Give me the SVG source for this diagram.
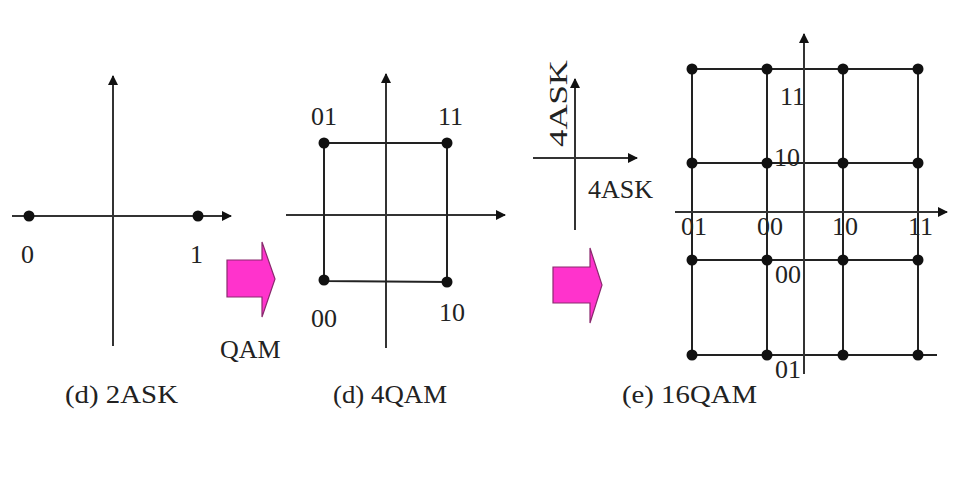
<svg xmlns="http://www.w3.org/2000/svg" width="961" height="483" viewBox="0 0 961 483">
<style>
text{font-size:26px;fill:#222}
.ax{stroke:#333;stroke-width:2;fill:none}
.gr{stroke:#222;stroke-width:2;fill:none}
.dot{fill:#111}
.big{stroke:#8a2a6e;stroke-width:1.2;fill:#ff33cc}
</style>
<defs>
<marker id="ah" markerWidth="10" markerHeight="10" refX="9" refY="5" orient="auto" markerUnits="userSpaceOnUse">
<path d="M0,0 L10,5 L0,10 z" fill="#111"/>
</marker>
</defs>
<rect width="961" height="483" fill="#fff"/>

<g id="panel-2ask">
<line class="ax" x1="12" y1="216" x2="231" y2="216" marker-end="url(#ah)"/>
<line class="ax" x1="113" y1="346" x2="113" y2="76" marker-end="url(#ah)"/>
<circle class="dot" cx="29" cy="216" r="5.5"/>
<circle class="dot" cx="198" cy="216" r="5.5"/>
<text font-family="Liberation Serif" x="21" y="263">0</text>
<text font-family="Liberation Serif" x="190" y="263">1</text>
<text font-family="Liberation Serif" x="65" y="403" textLength="113" lengthAdjust="spacingAndGlyphs">(d) 2ASK</text>
</g>

<g id="arrow-qam">
<path class="big" d="M227,260 L262,260 L262,242 L275,279 L262,317 L262,297 L227,297 z"/>
<text font-family="Liberation Serif" x="220" y="358">QAM</text>
</g>

<g id="panel-4qam">
<line class="ax" x1="286" y1="215" x2="505" y2="215" marker-end="url(#ah)"/>
<line class="ax" x1="386" y1="348" x2="386" y2="74" marker-end="url(#ah)"/>
<path class="gr" d="M324,143 L447,143 L447,282 L324,281 z"/>
<circle class="dot" cx="324" cy="143" r="5.5"/>
<circle class="dot" cx="447" cy="143" r="5.5"/>
<circle class="dot" cx="324" cy="280" r="5.5"/>
<circle class="dot" cx="447" cy="282" r="5.5"/>
<text font-family="Liberation Serif" x="311" y="125">01</text>
<text font-family="Liberation Serif" x="438" y="125">11</text>
<text font-family="Liberation Serif" x="311" y="327">00</text>
<text font-family="Liberation Serif" x="439" y="321">10</text>
<text font-family="Liberation Serif" x="333" y="403" textLength="114" lengthAdjust="spacingAndGlyphs">(d) 4QAM</text>
</g>

<g id="panel-4ask-axes">
<line class="ax" x1="533" y1="158" x2="637" y2="158" marker-end="url(#ah)"/>
<line class="ax" x1="575" y1="230" x2="575" y2="79" marker-end="url(#ah)"/>
<text font-family="Liberation Serif" transform="translate(567,147) rotate(-90)" x="0" y="0" textLength="87" lengthAdjust="spacingAndGlyphs">4ASK</text>
<text font-family="Liberation Serif" x="588" y="198">4ASK</text>
</g>

<g id="arrow-16qam">
<path class="big" d="M553,267 L590,267 L590,248 L602,285 L590,323 L590,303 L553,303 z"/>
</g>

<g id="panel-16qam">
<g class="gr">
<line x1="692" y1="69" x2="918" y2="69"/>
<line x1="692" y1="163" x2="918" y2="163"/>
<line x1="692" y1="260" x2="918" y2="260"/>
<line x1="692" y1="355" x2="937" y2="355"/>
<line x1="692" y1="69" x2="692" y2="355"/>
<line x1="767" y1="69" x2="767" y2="355"/>
<line x1="843" y1="69" x2="843" y2="355"/>
<line x1="918" y1="69" x2="918" y2="355"/>
</g>
<line class="ax" x1="675" y1="212" x2="947" y2="212" marker-end="url(#ah)"/>
<line class="ax" x1="804" y1="374" x2="804" y2="34" marker-end="url(#ah)"/>
<g class="dot">
<circle cx="692" cy="69" r="5.5"/><circle cx="767" cy="69" r="5.5"/><circle cx="843" cy="69" r="5.5"/><circle cx="918" cy="69" r="5.5"/>
<circle cx="692" cy="163" r="5.5"/><circle cx="767" cy="163" r="5.5"/><circle cx="843" cy="163" r="5.5"/><circle cx="918" cy="163" r="5.5"/>
<circle cx="692" cy="260" r="5.5"/><circle cx="767" cy="260" r="5.5"/><circle cx="843" cy="260" r="5.5"/><circle cx="918" cy="260" r="5.5"/>
<circle cx="692" cy="355" r="5.5"/><circle cx="767" cy="355" r="5.5"/><circle cx="843" cy="355" r="5.5"/><circle cx="918" cy="355" r="5.5"/>
</g>
<text font-family="Liberation Serif" x="780" y="105">11</text>
<text font-family="Liberation Serif" x="774" y="166">10</text>
<text font-family="Liberation Serif" x="681" y="235">01</text>
<text font-family="Liberation Serif" x="757" y="235">00</text>
<text font-family="Liberation Serif" x="832" y="235">10</text>
<text font-family="Liberation Serif" x="908" y="235">11</text>
<text font-family="Liberation Serif" x="775" y="283">00</text>
<text font-family="Liberation Serif" x="775" y="378">01</text>
<text font-family="Liberation Serif" x="622" y="403" textLength="135" lengthAdjust="spacingAndGlyphs">(e) 16QAM</text>
</g>
</svg>
